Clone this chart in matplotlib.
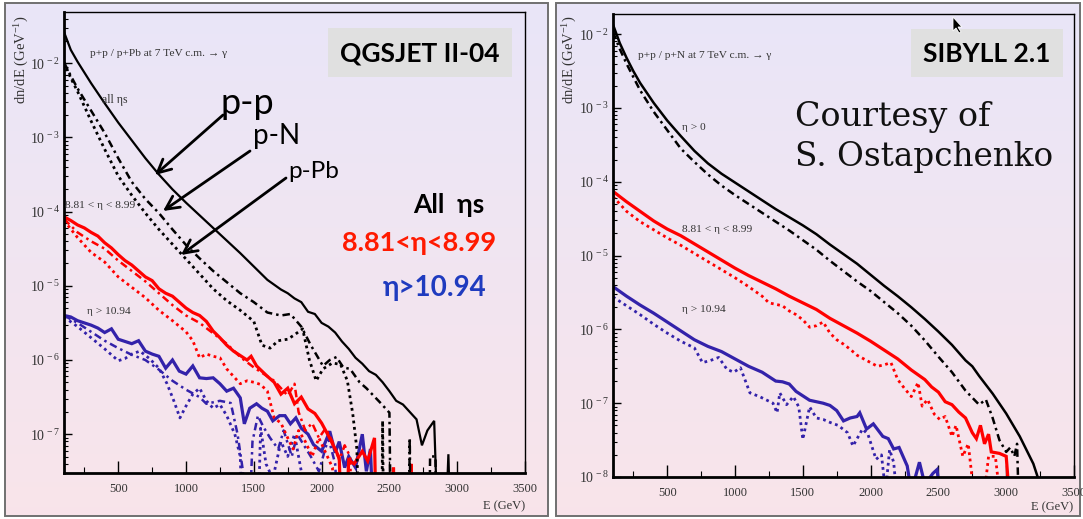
import numpy as np
import matplotlib
matplotlib.use("Agg")
import matplotlib.pyplot as plt
from matplotlib.patches import Rectangle, FancyArrowPatch, Polygon
from matplotlib.ticker import FixedLocator, MultipleLocator, FuncFormatter, NullFormatter

plt.rcParams['font.family'] = ['Liberation Serif', 'DejaVu Serif']
plt.rcParams['mathtext.fontset'] = 'custom'
plt.rcParams['mathtext.rm'] = 'Liberation Serif'
plt.rcParams['mathtext.it'] = 'Liberation Serif:italic'
plt.rcParams['mathtext.bf'] = 'Liberation Serif:bold'

# ---------------- data: (E [GeV], log10 dn/dE [1/GeV]) ; -9 marks empty bins
# QGSJET II-04, all etas
qgs_all_pp = [(100,-1.58),(150,-1.82),(200,-1.98),(300,-2.27),(400,-2.54),(500,-2.80),(600,-3.04),
              (700,-3.28),(800,-3.50),(900,-3.70),(1000,-3.88),(1100,-4.05),(1200,-4.22),(1300,-4.39),
              (1400,-4.56),(1500,-4.74),(1600,-4.92),(1700,-5.05),(1750,-5.10),(1800,-5.17),(1850,-5.22),
              (1900,-5.35),(1950,-5.38),(2000,-5.50),(2050,-5.55),(2100,-5.63),(2150,-5.75),(2200,-5.85),
              (2250,-5.97),(2300,-6.05),(2350,-6.15),(2400,-6.20),(2450,-6.30),(2500,-6.42),(2550,-6.55),
              (2600,-6.60),(2650,-6.70),(2700,-6.80),(2740,-7.15),(2780,-6.95),(2830,-6.82),(2870,-9),
              (2900,-9),(2935,-7.27),(2960,-9)]
qgs_all_pn = [(100,-1.99),(150,-2.17),(200,-2.34),(300,-2.64),(400,-2.94),(500,-3.28),(600,-3.60),
              (700,-3.83),(800,-4.02),(900,-4.24),(1000,-4.45),(1100,-4.63),(1200,-4.80),(1300,-4.95),
              (1400,-5.10),(1500,-5.22),(1600,-5.36),(1700,-5.40),(1770,-5.38),(1850,-5.55),(1920,-5.80),
              (2010,-6.08),(2060,-6.00),(2110,-5.96),(2160,-6.10),(2210,-6.12),(2280,-6.30),(2330,-6.38),
              (2430,-6.57),(2500,-6.71),(2515,-9),(2640,-9),(2650,-7.05),(2660,-9),(2790,-9),(2800,-7.30),
              (2840,-7.30),(2850,-9)]
qgs_all_ppb = [(100,-1.99),(150,-2.20),(200,-2.38),(300,-2.78),(400,-3.16),(500,-3.52),(600,-3.78),
               (700,-4.02),(800,-4.24),(900,-4.44),(1000,-4.64),(1100,-4.84),(1200,-5.04),(1300,-5.20),
               (1400,-5.33),(1500,-5.48),(1560,-5.80),(1620,-5.84),(1680,-5.74),(1750,-5.72),(1800,-5.66),
               (1860,-5.58),(1910,-6.00),(1960,-6.28),(2010,-6.12),(2080,-6.04),(2140,-6.06),(2190,-6.28),
               (2230,-6.73),(2260,-7.20),(2285,-9),(2440,-9),(2450,-6.82),(2460,-9)]
# QGSJET II-04, 8.81 < eta < 8.99
qgs_mid_pp = [(100,-4.07),(150,-4.12),(200,-4.18),(250,-4.22),(300,-4.28),(350,-4.33),(400,-4.42),
              (450,-4.49),(500,-4.58),(550,-4.66),(600,-4.72),(650,-4.80),(700,-4.88),(750,-4.93),
              (800,-5.04),(850,-5.10),(900,-5.14),(950,-5.22),(1000,-5.30),(1050,-5.36),(1100,-5.40),
              (1150,-5.48),(1200,-5.61),(1250,-5.70),(1300,-5.80),(1350,-5.88),(1400,-5.94),(1450,-6.00),
              (1480,-5.95),(1520,-6.08),(1560,-6.15),(1600,-6.22),(1650,-6.30),(1700,-6.46),(1750,-6.38),
              (1800,-6.59),(1850,-6.50),(1900,-6.66),(1950,-6.72),(2000,-6.85),(2050,-7.02),(2100,-7.20),
              (2130,-7.32),(2160,-9),(2200,-7.35),(2240,-7.40),(2300,-7.23),(2340,-7.36),(2390,-7.05),
              (2410,-9),(2520,-9),(2530,-7.45),(2540,-9),(2650,-9),(2660,-7.40),(2670,-9)]
qgs_mid_pn = [(100,-4.10),(200,-4.28),(300,-4.40),(400,-4.50),(500,-4.66),(600,-4.80),(700,-4.94),
              (800,-5.10),(900,-5.26),(1000,-5.40),(1100,-5.50),(1200,-5.64),(1300,-5.78),(1400,-5.96),
              (1500,-6.10),(1600,-6.22),(1650,-6.28),(1700,-6.38),(1750,-6.48),(1800,-6.32),(1830,-6.70),
              (1880,-6.95),(1930,-6.85),(1980,-7.05),(2030,-6.92),(2080,-7.10),(2130,-7.35),(2170,-7.15),
              (2210,-7.30),(2240,-9)]
qgs_mid_ppb = [(100,-4.12),(200,-4.35),(300,-4.55),(400,-4.68),(500,-4.88),(600,-5.02),(700,-5.16),
               (800,-5.33),(900,-5.47),(1000,-5.62),(1050,-5.74),(1100,-5.97),(1150,-5.92),(1200,-5.95),
               (1250,-5.97),(1300,-6.12),(1400,-6.32),(1450,-6.28),(1500,-6.30),(1550,-6.33),(1600,-6.42),
               (1650,-6.78),(1700,-6.85),(1750,-7.05),(1790,-7.20),(1830,-6.95),(1880,-7.10),(1930,-7.30),
               (1980,-7.05),(2030,-7.25),(2080,-7.45),(2110,-9)]
# QGSJET II-04, eta > 10.94
qgs_fwd_pp = [(100,-5.40),(150,-5.42),(200,-5.47),(250,-5.50),(300,-5.53),(350,-5.57),(400,-5.63),
              (450,-5.58),(500,-5.72),(550,-5.75),(600,-5.78),(650,-5.74),(700,-5.88),(750,-5.92),
              (800,-5.95),(850,-6.11),(900,-6.00),(950,-6.15),(1000,-6.19),(1050,-6.08),(1100,-6.24),
              (1150,-6.25),(1200,-6.24),(1250,-6.32),(1300,-6.42),(1350,-6.38),(1400,-6.51),(1430,-6.86),
              (1470,-6.65),(1520,-6.59),(1560,-6.65),(1600,-6.69),(1640,-6.82),(1690,-6.75),(1730,-6.75),
              (1770,-6.86),(1810,-6.78),(1850,-6.92),(1900,-7.00),(1940,-7.14),(2000,-7.23),(2060,-6.96),
              (2100,-7.25),(2130,-7.10),(2170,-7.45),(2200,-7.30),(2250,-7.45),(2300,-7.00),(2330,-7.50),
              (2360,-7.20),(2400,-9)]
qgs_fwd_pn = [(100,-5.40),(150,-5.45),(200,-5.50),(300,-5.62),(400,-5.74),(500,-5.84),(600,-5.93),
              (700,-6.00),(800,-6.13),(900,-6.28),(1000,-6.40),(1100,-6.50),(1150,-6.59),(1250,-6.55),
              (1330,-6.58),(1380,-7.00),(1420,-7.50),(1450,-9),(1490,-7.10),(1530,-6.75),(1570,-6.90),
              (1620,-7.05),(1680,-7.20),(1720,-6.95),(1780,-7.30),(1820,-7.00),(1870,-7.15),(1920,-7.30),
              (1980,-7.50),(2050,-7.05),(2100,-7.40),(2150,-9)]
qgs_fwd_ppb = [(100,-5.42),(200,-5.55),(300,-5.70),(400,-5.85),(500,-6.01),(550,-5.98),(600,-5.92),
               (660,-5.88),(730,-5.98),(800,-6.11),(860,-6.32),(910,-6.55),(955,-6.78),(1000,-6.62),
               (1050,-6.46),(1100,-6.38),(1150,-6.55),(1200,-6.65),(1250,-6.60),(1300,-6.75),(1360,-7.00),
               (1400,-7.30),(1430,-9),(1520,-9),(1550,-6.92),(1590,-7.40),(1640,-7.60),(1700,-7.10),
               (1750,-7.30),(1800,-7.00),(1850,-7.50),(1900,-9)]

# SIBYLL 2.1, eta > 0
sib_all_pp = [(100,-1.87),(150,-2.12),(200,-2.32),(250,-2.50),(300,-2.66),(400,-2.93),(500,-3.17),
              (600,-3.38),(700,-3.58),(800,-3.75),(900,-3.89),(1000,-4.01),(1100,-4.13),(1200,-4.25),
              (1300,-4.37),(1400,-4.48),(1500,-4.59),(1600,-4.71),(1700,-4.85),(1800,-4.98),(1900,-5.11),
              (2000,-5.26),(2100,-5.41),(2200,-5.55),(2300,-5.70),(2400,-5.86),(2500,-6.03),(2600,-6.21),
              (2700,-6.42),(2750,-6.50),(2800,-6.63),(2900,-6.87),(3000,-7.14),(3100,-7.45),(3200,-7.82),
              (3250,-8.10)]
sib_all_pn = [(100,-1.97),(150,-2.20),(200,-2.40),(300,-2.76),(400,-3.05),(500,-3.30),(600,-3.55),
              (700,-3.73),(800,-3.90),(900,-4.05),(1000,-4.18),(1100,-4.30),(1200,-4.42),(1300,-4.54),
              (1400,-4.66),(1500,-4.79),(1600,-4.92),(1700,-5.07),(1800,-5.21),(1900,-5.35),(2000,-5.48),
              (2100,-5.63),(2200,-5.78),(2300,-5.95),(2400,-6.15),(2500,-6.37),(2600,-6.58),(2700,-6.83),
              (2800,-7.02),(2850,-6.95),(2900,-7.20),(2950,-7.50),(3000,-7.66),(3030,-7.60),(3060,-7.72),
              (3080,-7.55),(3090,-8.20)]
# SIBYLL 2.1, 8.81 < eta < 8.99
sib_mid_pp = [(100,-4.13),(200,-4.27),(300,-4.40),(400,-4.53),(500,-4.64),(600,-4.73),(700,-4.84),
              (800,-4.95),(900,-5.06),(1000,-5.17),(1100,-5.27),(1200,-5.36),(1300,-5.45),(1400,-5.55),
              (1500,-5.64),(1600,-5.73),(1700,-5.85),(1800,-5.95),(1900,-6.05),(2000,-6.16),(2100,-6.28),
              (2200,-6.40),(2300,-6.55),(2400,-6.68),(2450,-6.78),(2500,-6.85),(2550,-6.98),(2600,-7.02),
              (2650,-7.12),(2700,-7.20),(2750,-7.40),(2780,-7.48),(2810,-7.30),(2840,-7.55),(2870,-7.42),
              (2890,-7.66),(2950,-7.68),(3000,-7.72),(3020,-8.20)]
sib_mid_pn = [(100,-4.20),(200,-4.40),(300,-4.54),(400,-4.65),(500,-4.76),(600,-4.86),(700,-4.97),
              (800,-5.08),(900,-5.19),(1000,-5.30),(1100,-5.42),(1200,-5.55),(1250,-5.64),(1300,-5.66),
              (1350,-5.68),(1400,-5.75),(1450,-5.80),(1500,-5.87),(1550,-5.97),(1600,-5.95),(1650,-5.90),
              (1700,-6.05),(1750,-6.14),(1800,-6.20),(1850,-6.27),(1900,-6.35),(1950,-6.40),(2000,-6.45),
              (2050,-6.50),(2100,-6.48),(2150,-6.45),(2200,-6.68),(2250,-6.80),(2300,-6.91),(2350,-6.72),
              (2380,-7.04),(2420,-6.95),(2470,-7.15),(2510,-7.22),(2550,-7.18),(2600,-7.45),(2630,-7.30),
              (2680,-7.72),(2720,-7.55),(2760,-8.20),(2840,-8.20),(2870,-7.72),(2920,-7.72),(2950,-8.20)]
# SIBYLL 2.1, eta > 10.94
sib_fwd_pp = [(100,-5.42),(200,-5.55),(300,-5.67),(400,-5.78),(500,-5.90),(600,-6.02),(700,-6.14),
              (800,-6.23),(900,-6.30),(1000,-6.40),(1100,-6.50),(1200,-6.58),(1250,-6.64),(1300,-6.70),
              (1350,-6.71),(1400,-6.74),(1450,-6.84),(1500,-6.90),(1550,-6.96),(1600,-6.98),(1650,-7.00),
              (1700,-7.03),(1750,-7.10),(1800,-7.24),(1850,-7.20),(1900,-7.18),(1920,-7.13),(1970,-7.35),
              (2020,-7.28),(2090,-7.45),(2130,-7.48),(2170,-7.62),(2210,-7.60),(2270,-7.85),(2300,-8.20),
              (2360,-7.80),(2400,-8.10),(2460,-7.95),(2490,-7.90),(2510,-8.20)]
sib_fwd_pn = [(100,-5.56),(150,-5.62),(200,-5.68),(300,-5.80),(400,-5.93),(500,-6.05),(600,-6.16),
              (700,-6.25),(760,-6.45),(820,-6.42),(880,-6.38),(940,-6.54),(990,-6.58),(1040,-6.52),
              (1110,-6.86),(1180,-6.91),(1280,-7.00),(1310,-7.13),(1330,-6.86),(1380,-7.02),(1430,-6.91),
              (1470,-7.05),(1500,-7.49),(1550,-7.05),(1600,-7.20),(1650,-7.22),(1700,-7.26),(1760,-7.30),
              (1830,-7.40),(1870,-7.58),(1940,-7.35),(1980,-7.42),(2040,-7.76),(2080,-7.70),(2110,-8.20),
              (2140,-7.63),(2170,-7.80),(2190,-8.20)]

E_RANGE = (100, 3500)
QGS_YRANGE = (3e-8, 4.9e-2)
SIB_YRANGE = (1e-8, 1.88e-2)

BLACK, RED, BLUE = '#000000', '#ff0000', '#3322aa'
DOTTED = (0, (1.0, 1.3))
DASHDOT = (0, (3.0, 1.6, 1.0, 1.6))

W, H = 1083, 519
fig = plt.figure(figsize=(W / 100, H / 100), dpi=100)

# slide-style background panels
bg = fig.add_axes([0, 0, 1, 1], zorder=-2)
grad = np.linspace(0, 1, 256)[:, None, None]
c_top = np.array([0.914, 0.902, 0.973])
c_bot = np.array([0.976, 0.894, 0.918])
img = c_top + (c_bot - c_top) * grad
for x0, x1 in [(5, 548), (556, 1080)]:
    bg.imshow(img, extent=(x0, x1, 516, 3), aspect='auto', interpolation='bilinear', zorder=0)
    bg.add_patch(Rectangle((x0, 3), x1 - x0, 513, fill=False, ec='#707070', lw=1.4, zorder=1))
bg.set_xlim(0, W)
bg.set_ylim(H, 0)
bg.axis('off')


def series(pairs):
    a = np.asarray(pairs, dtype=float)
    return a[:, 0], 10.0 ** a[:, 1]


def style_axes(ax, yrange):
    ax.set_facecolor('none')
    ax.set_yscale('log')
    ax.set_xlim(*E_RANGE)
    ax.set_ylim(*yrange)
    lo, hi = yrange
    decades = range(int(np.floor(np.log10(lo))), int(np.ceil(np.log10(hi))) + 1)
    majors = [10.0 ** k for k in decades if lo * 0.999 <= 10.0 ** k <= hi * 1.001]
    minors = [m * 10.0 ** k for k in decades for m in range(2, 10) if lo <= m * 10.0 ** k <= hi]
    ax.xaxis.set_major_locator(MultipleLocator(500))
    ax.xaxis.set_minor_locator(MultipleLocator(250))
    ax.yaxis.set_major_locator(FixedLocator(majors))
    ax.yaxis.set_minor_locator(FixedLocator(minors))
    ax.yaxis.set_minor_formatter(NullFormatter())
    ax.yaxis.set_major_formatter(FuncFormatter(lambda v, p: r'$10^{\,%d}$' % round(np.log10(v))))
    ax.tick_params(which='both', direction='in', top=False, right=False,
                   color='black', labelcolor='#333333')
    ax.tick_params(axis='y', which='major', length=6, width=1, pad=3, labelsize=10)
    ax.tick_params(axis='y', which='minor', length=3, width=0.8)
    ax.tick_params(axis='x', which='major', length=9, width=1, pad=7, labelsize=9)
    ax.tick_params(axis='x', which='minor', length=4.5, width=0.8)
    for s in ('left', 'bottom'):
        ax.spines[s].set_linewidth(2.0)
    for s in ('top', 'right'):
        ax.spines[s].set_linewidth(1.0)


def draw(ax, pairs, color, ls, lw):
    e, v = series(pairs)
    ax.plot(e, v, color=color, ls=ls, lw=lw, solid_joinstyle='miter', dash_capstyle='butt')


axL = fig.add_axes([64 / W, 1 - 473 / H, 461 / W, 461 / H])
axR = fig.add_axes([613 / W, 1 - 477 / H, 461 / W, 463 / H])
style_axes(axL, QGS_YRANGE)
style_axes(axR, SIB_YRANGE)

# QGSJET panel curves
draw(axL, qgs_fwd_ppb, BLUE, DOTTED, 2.0)
draw(axL, qgs_fwd_pn, BLUE, DASHDOT, 1.8)
draw(axL, qgs_fwd_pp, BLUE, '-', 2.3)
draw(axL, qgs_mid_ppb, RED, DOTTED, 2.0)
draw(axL, qgs_mid_pn, RED, DASHDOT, 1.8)
draw(axL, qgs_mid_pp, RED, '-', 2.3)
draw(axL, qgs_all_ppb, BLACK, DOTTED, 2.0)
draw(axL, qgs_all_pn, BLACK, DASHDOT, 1.8)
draw(axL, qgs_all_pp, BLACK, '-', 1.6)

# SIBYLL panel curves
draw(axR, sib_fwd_pn, BLUE, DOTTED, 2.0)
draw(axR, sib_fwd_pp, BLUE, '-', 2.3)
draw(axR, sib_mid_pn, RED, DOTTED, 2.0)
draw(axR, sib_mid_pp, RED, '-', 2.3)
draw(axR, sib_all_pn, BLACK, DASHDOT, 1.8)
draw(axR, sib_all_pp, BLACK, '-', 1.8)

# overlay for annotations (pixel coordinates)
ov = fig.add_axes([0, 0, 1, 1], zorder=5)
ov.set_xlim(0, W)
ov.set_ylim(H, 0)
ov.axis('off')
ov.patch.set_alpha(0)

TXT = '#333333'
serif = ['Liberation Serif', 'DejaVu Serif']
sans = ['Lato', 'DejaVu Sans']

# axis titles
for x, ytop in [(22, 15), (570, 15)]:
    ov.text(x, ytop, r'dn/dE (GeV$^{-1}$)', rotation=90, ha='center', va='top',
            fontsize=10.5, color=TXT, family=serif)
ov.text(525, 506, 'E (GeV)', ha='right', va='center', fontsize=9, color=TXT, family=serif)
ov.text(1073, 507, 'E (GeV)', ha='right', va='center', fontsize=9, color=TXT, family=serif)

# small in-plot captions
ov.text(90, 53, 'p+p / p+Pb at 7 TeV c.m. \u2192 \u03b3', ha='left', va='center',
        fontsize=8.2, color=TXT, family=serif)
ov.text(102, 100, 'all \u03b7s', ha='left', va='center', fontsize=8.5, color=TXT, family=serif)
ov.text(65, 206, '8.81 < \u03b7 < 8.99', ha='left', va='center', fontsize=8.2, color=TXT, family=serif)
ov.text(87, 312, '\u03b7 > 10.94', ha='left', va='center', fontsize=8.2, color=TXT, family=serif)

ov.text(638, 55, 'p+p / p+N at 7 TeV c.m. \u2192 \u03b3', ha='left', va='center',
        fontsize=8.2, color=TXT, family=serif)
ov.text(682, 127, '\u03b7 > 0', ha='left', va='center', fontsize=8.2, color=TXT, family=serif)
ov.text(682, 230, '8.81 < \u03b7 < 8.99', ha='left', va='center', fontsize=8.2, color=TXT, family=serif)
ov.text(682, 310, '\u03b7 > 10.94', ha='left', va='center', fontsize=8.2, color=TXT, family=serif)

# model boxes
for (x0, y0, x1, y1), label in [((328, 28, 512, 77), 'QGSJET II-04'),
                                ((911, 29, 1063, 77), 'SIBYLL 2.1')]:
    ov.add_patch(Rectangle((x0, y0), x1 - x0, y1 - y0, fc='#e0e0e0', ec='none'))
    ov.text((x0 + x1) / 2, (y0 + y1) / 2 + 1, label, ha='center', va='center',
            fontsize=19, fontweight='bold', color='black', family=sans)

# colour key
ov.text(449, 205, 'All  \u03b7s', ha='center', va='center', fontsize=19, fontweight='bold',
        color='black', family=sans)
ov.text(419, 243, '8.81<\u03b7<8.99', ha='center', va='center', fontsize=19.5, fontweight='bold',
        color='#ff1a00', family=sans)
ov.text(435, 288, '\u03b7>10.94', ha='center', va='center', fontsize=20, fontweight='bold',
        color='#1f3bbf', family=sans)

# target labels with arrows
ov.text(247, 103, 'p-p', ha='center', va='center', fontsize=26, color='black', family=sans)
ov.text(277, 136, 'p-N', ha='center', va='center', fontsize=20, color='black', family=sans)
ov.text(314, 171, 'p-Pb', ha='center', va='center', fontsize=17.5, color='black', family=sans)
for (xs, ys), (xe, ye) in [((223, 115), (155, 175)), ((250, 151), (163, 211)), ((286, 178), (181, 255))]:
    ov.add_patch(FancyArrowPatch((xs, ys), (xe, ye), arrowstyle='->', mutation_scale=24,
                                 lw=2.0, color='black', shrinkA=0, shrinkB=0))

# credit
ov.text(795, 126, 'Courtesy of', ha='left', va='baseline', fontsize=24, color='#111111',
        family=['DejaVu Serif'])
ov.text(795, 166, 'S. Ostapchenko', ha='left', va='baseline', fontsize=23.5, color='#111111',
        family=['DejaVu Serif'])

# mouse pointer
ov.add_patch(Polygon([(953, 17), (953, 31), (956, 28), (959, 33), (961, 32), (958, 27), (962, 27)],
                     closed=True, fc='black', ec='white', lw=0.6))

fig.savefig('out.png', dpi=100)
